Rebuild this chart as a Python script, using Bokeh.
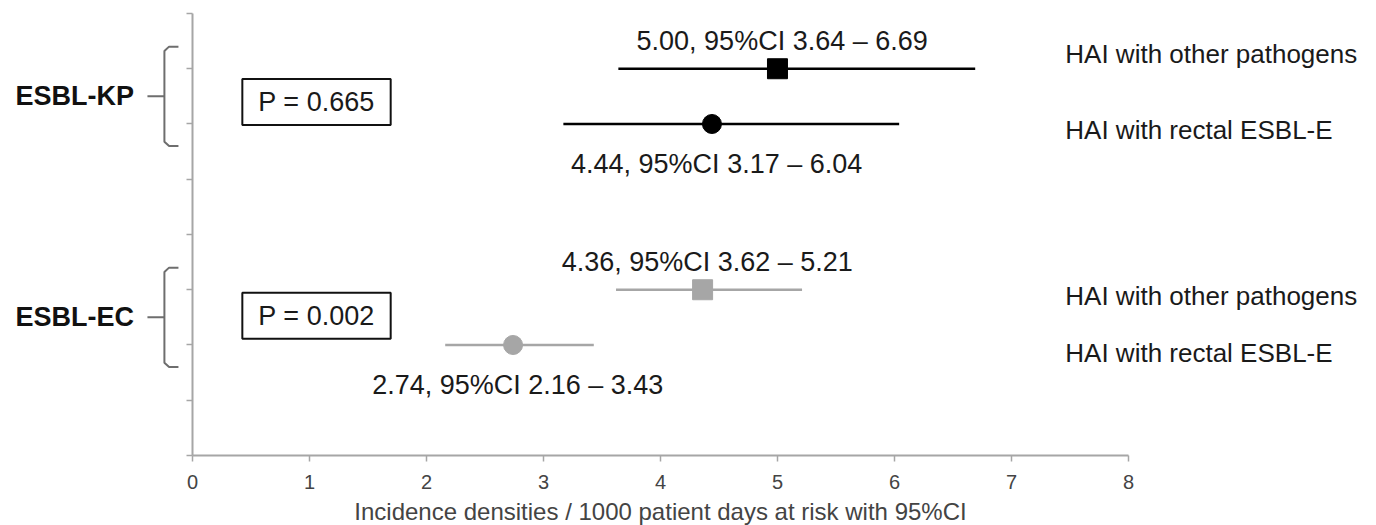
from bokeh.plotting import figure
from bokeh.models import Range1d, LinearAxis, FixedTicker, Label
from bokeh.core.properties import value
from bokeh.embed import file_html
from bokeh.resources import INLINE

# ---------------- data ----------------
groups = ["ESBL-KP", "ESBL-EC"]
p_values = ["P = 0.665", "P = 0.002"]
series_names = ["HAI with other pathogens", "HAI with rectal ESBL-E"]
kp_estimate = [5.00, 4.44]
kp_lower = [3.64, 3.17]
kp_upper = [6.69, 6.04]
ec_estimate = [4.36, 2.74]
ec_lower = [3.62, 2.16]
ec_upper = [5.21, 3.43]
x_ticks = [0, 1, 2, 3, 4, 5, 6, 7, 8]
x_title = "Incidence densities / 1000 patient days at risk with 95%CI"

# ---------------- layout / style ----------------
FONT_NAME = "Liberation Sans"
FONT = value(FONT_NAME)
group_top_row = [7, 3]
group_colors = ["#000000", "#a6a6a6"]
markers = ["square", "circle"]
marker_sizes = [20, 19]
est_label_dy = [0.51, -0.73]
right_label_dy = [[0.26, -0.10], [-0.12, -0.15]]
pbox_dy = [-0.10, 0.03]

p = figure(width=1376, height=525,
           x_range=Range1d(-1.641, 10.12), y_range=Range1d(-1.267, 8.235),
           x_axis_type=None, y_axis_type=None,
           output_backend="svg", toolbar_location=None,
           min_border=0, outline_line_color=None)
p.background_fill_color = "white"
p.border_fill_color = "white"

# axes
xaxis = LinearAxis(fixed_location=0, bounds=(0, 8),
                   ticker=FixedTicker(ticks=x_ticks))
xaxis.axis_line_color = "#a6a6a6"
xaxis.axis_line_width = 2
xaxis.major_tick_line_color = "#a6a6a6"
xaxis.major_tick_line_width = 1.5
xaxis.major_tick_out = 6
xaxis.major_tick_in = 0
xaxis.minor_tick_line_color = None
xaxis.major_label_text_font = FONT_NAME
xaxis.major_label_text_font_size = "20px"
xaxis.major_label_text_color = "#444444"
xaxis.major_label_standoff = 14
xaxis.axis_label = x_title
xaxis.axis_label_text_font = FONT_NAME
xaxis.axis_label_text_font_size = "24px"
xaxis.axis_label_text_font_style = "normal"
xaxis.axis_label_text_color = "#444444"
xaxis.axis_label_standoff = 5
p.add_layout(xaxis, "below")

yaxis = LinearAxis(fixed_location=0, bounds=(0, 8),
                   ticker=FixedTicker(ticks=x_ticks))
yaxis.axis_line_color = "#a6a6a6"
yaxis.axis_line_width = 2
yaxis.major_tick_line_color = "#a6a6a6"
yaxis.major_tick_line_width = 1.5
yaxis.major_tick_out = 6
yaxis.major_tick_in = 0
yaxis.minor_tick_line_color = None
yaxis.major_label_overrides = {t: "" for t in x_ticks}
p.add_layout(yaxis, "left")

groups_data = [(kp_estimate, kp_lower, kp_upper), (ec_estimate, ec_lower, ec_upper)]

for g, (name, pv, (est, lo, hi)) in enumerate(zip(groups, p_values, groups_data)):
    rows = [group_top_row[g] - i for i in range(len(est))]
    color = group_colors[g]
    # whiskers
    p.segment(x0=lo, y0=rows, x1=hi, y1=rows, line_color=color, line_width=2.5)
    # points
    for i in range(len(est)):
        p.scatter(x=[est[i]], y=[rows[i]], marker=markers[i], size=marker_sizes[i],
                  fill_color=color, line_color=color)
        txt = f"{est[i]:.2f}, 95%CI {lo[i]:.2f} \u2013 {hi[i]:.2f}"
        p.text(x=[est[i] + 0.04], y=[rows[i] + est_label_dy[i]], text=[txt],
               text_align="center", text_baseline="middle", text_font=FONT,
               text_font_size="27px", text_color="#1a1a1a")
        p.text(x=[7.46], y=[rows[i] + right_label_dy[g][i]], text=[series_names[i]],
               text_align="left", text_baseline="middle", text_font=FONT,
               text_font_size="26px", text_color="#1a1a1a")
    # group bracket
    center = sum(rows) / len(rows)
    top, bot = center + 0.9, center - 0.9
    xv, xr, xc = -0.24, -0.12, -0.20
    p.line(x=[xr, xc, xv, xv, xc, xr],
           y=[top, top, top - 0.08, bot + 0.08, bot, bot],
           line_color="#6e6e6e", line_width=2)
    p.line(x=[-0.385, xv], y=[center, center], line_color="#6e6e6e", line_width=2)
    p.text(x=[-0.50], y=[center], text=[name], text_align="right",
           text_baseline="middle", text_font=FONT, text_font_size="27px",
           text_font_style="bold", text_color="#111111")
    # p-value box
    p.add_layout(Label(x=1.06, y=center + pbox_dy[g], text=pv,
                       text_align="center", text_baseline="middle",
                       text_font=FONT_NAME, text_font_size="27px", text_color="#1a1a1a",
                       border_line_color="#111111", border_line_width=2,
                       background_fill_color="white", padding=(16, 16, 8, 8)))

open("out.html", "w").write(file_html(p, INLINE))
